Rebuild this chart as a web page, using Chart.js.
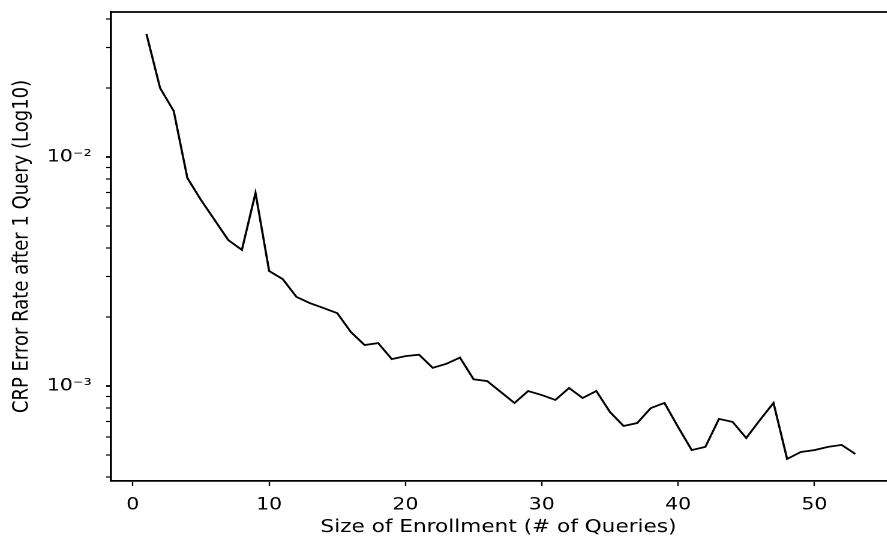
<!DOCTYPE html>
<html>
<head>
<meta charset="utf-8">
<script src="https://cdn.jsdelivr.net/npm/chart.js@4/dist/chart.umd.min.js"></script>
<style>
  html, body { margin: 0; padding: 0; background: #fff; overflow: hidden; }
  #outer { width: 887px; height: 540px; position: relative; overflow: hidden; }
  #wrap { width: 739.17px; height: 540px; position: absolute; left: 0; top: 0;
          transform: scaleX(1.2); transform-origin: 0 0; }
</style>
</head>
<body>
<div id="outer"><div id="wrap"><canvas id="c"></canvas></div></div>
<script>
const enrollmentSizes = [1,2,3,4,5,6,7,8,9,10,11,12,13,14,15,16,17,18,19,20,21,22,23,24,25,26,27,28,29,30,31,32,33,34,35,36,37,38,39,40,41,42,43,44,45,46,47,48,49,50,51,52,53];
const errorRates = [
  0.03445, 0.02001, 0.01588, 0.00810, 0.00649, 0.00531, 0.00434, 0.00393, 0.00697, 0.00318,
  0.00293, 0.00245, 0.00230, 0.00219, 0.00208, 0.00172, 0.00151, 0.00154, 0.00131, 0.00135,
  0.00137, 0.00120, 0.00125, 0.00133, 0.00107, 0.00105, 0.000941, 0.000843, 0.000951, 0.000913,
  0.000869, 0.000980, 0.000886, 0.000951, 0.000770, 0.000669, 0.000689, 0.000801, 0.000843, 0.000662,
  0.000525, 0.000542, 0.000718, 0.000697, 0.000593, 0.000710, 0.000843, 0.000480, 0.000515, 0.000525,
  0.000542, 0.000553, 0.000505
];
const xTickValues = [0, 10, 20, 30, 40, 50];
const yMajorTicks = [0.001, 0.01];
const yMajorLabels = ['10\u207B\u00B3', '10\u207B\u00B2'];
const yMinorSignificands = [1,2,3,4,5,6,7,8,9];
const yExponents = [-4, -3, -2];
const xRange = [-1.6, 55.25];
const yRange = [3.847e-4, 0.04297];

const points = enrollmentSizes.map((x, i) => ({ x: x, y: errorRates[i] }));

const frameTop = {
  id: 'frameTop',
  afterDraw(chart) {
    const { ctx, chartArea } = chart;
    ctx.save();
    ctx.strokeStyle = '#000';
    ctx.lineWidth = 1.8;
    ctx.beginPath();
    ctx.moveTo(chartArea.left, chartArea.top);
    ctx.lineTo(chartArea.right + 2, chartArea.top);
    ctx.stroke();
    ctx.restore();
  }
};

const FONT = 'DejaVu Sans';

new Chart(document.getElementById('c'), {
  type: 'line',
  data: {
    datasets: [{
      data: points,
      borderColor: '#000',
      borderWidth: 1.8,
      pointRadius: 0,
      tension: 0,
      fill: false
    }]
  },
  options: {
    responsive: true,
    maintainAspectRatio: false,
    animation: false,
    devicePixelRatio: 2,
    layout: { padding: { top: 12, right: 0, left: 0, bottom: 0 } },
    plugins: { legend: { display: false }, tooltip: { enabled: false } },
    scales: {
      x: {
        type: 'linear',
        min: xRange[0],
        max: xRange[1],
        afterBuildTicks(scale) {
          scale.ticks = xTickValues.map(v => ({ value: v }));
        },
        afterFit(scale) { scale.height = 59; scale.paddingLeft = 0; scale.paddingRight = 0; },
        ticks: {
          color: '#000',
          font: { family: FONT, size: 17 },
          padding: 9,
          maxRotation: 0,
          autoSkip: false,
          callback: v => String(v)
        },
        grid: { drawOnChartArea: false, drawTicks: true, tickLength: 5, tickColor: '#000', tickWidth: 1.2 },
        border: { display: true, color: '#000', width: 1.8 },
        title: {
          display: true,
          text: 'Size of Enrollment (# of Queries)',
          color: '#000',
          font: { family: FONT, size: 18 },
          padding: { top: 0, bottom: 2 }
        }
      },
      y: {
        type: 'logarithmic',
        min: yRange[0],
        max: yRange[1],
        afterBuildTicks(scale) {
          const t = [];
          yExponents.forEach(e => {
            yMinorSignificands.forEach(s => {
              const v = s * Math.pow(10, e);
              if (v >= yRange[0] && v <= yRange[1]) t.push({ value: v, major: s === 1 });
            });
          });
          scale.ticks = t;
        },
        afterFit(scale) { scale.width = 92.5; scale.paddingTop = 0; scale.paddingBottom = 0; },
        ticks: {
          color: '#000',
          font: { family: FONT, size: 17 },
          padding: 12,
          autoSkip: false,
          callback: function (v) {
            for (let i = 0; i < yMajorTicks.length; i++) {
              if (Math.abs(v - yMajorTicks[i]) / yMajorTicks[i] < 1e-6) return yMajorLabels[i];
            }
            return '';
          }
        },
        grid: {
          drawOnChartArea: false, drawTicks: true, tickLength: 4, tickColor: '#000',
          tickWidth: ctx => (ctx.tick && ctx.tick.major ? 1.8 : 1.2)
        },
        border: { display: true, color: '#000', width: 1.8 },
        title: {
          display: true,
          text: 'CRP Error Rate after 1 Query (Log10)',
          color: '#000',
          font: { family: FONT, size: 18 },
          padding: { top: 7.5, bottom: 0 }
        }
      }
    }
  },
  plugins: [frameTop]
});
</script>
</body>
</html>
